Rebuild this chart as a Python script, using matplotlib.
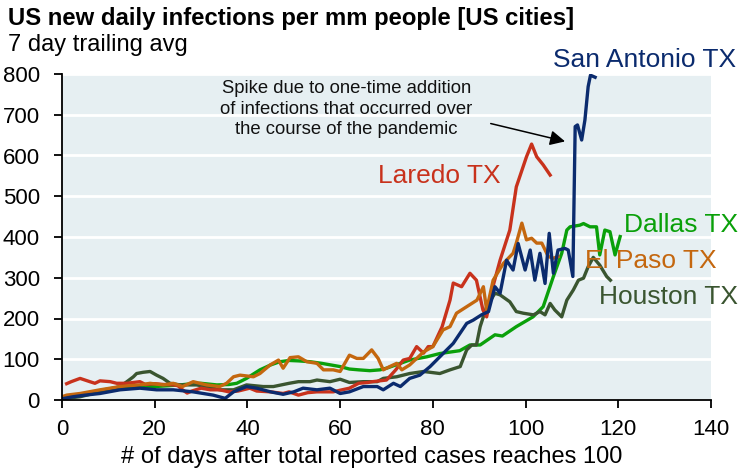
import matplotlib
matplotlib.use('Agg')
import matplotlib.pyplot as plt

plt.rcParams['font.family'] = ['Liberation Sans', 'DejaVu Sans']

# data (days after 100 cases, infections per mm people)
laredo_days = [1, 2, 3.9, 6, 7.1, 8.2, 10.4, 11.8, 14, 16.8, 18, 20, 22, 24, 25, 26, 27, 28, 30, 32, 34, 36, 38, 40.5,
               42, 45, 47.7, 49, 51, 53, 55, 57, 58.5, 60, 62, 64, 66, 67, 70, 72, 73.6, 75, 76.5, 78, 79, 80, 82,
               83.7, 84.4, 86.2, 88, 89.4, 90.8, 91.6, 93, 94.5, 96.6, 98, 100.2, 101.3, 102.4, 103.8, 105.3]
laredo_vals = [40, 45, 53, 45, 41, 47, 45, 41, 41, 45, 38, 40, 38, 37, 35, 25, 17, 22, 29, 25, 25, 20, 22, 29,
               22, 20, 16, 20, 12, 18, 20, 20, 20, 24, 29, 41, 43, 45, 49, 74, 98, 102, 131, 115, 131, 131, 180,
               245, 287, 278, 311, 294, 221, 204, 280, 343, 417, 523, 597, 628, 597, 577, 552]

dallas_days = [0, 3, 6, 9, 13, 17, 20, 23, 25.5, 28, 30, 33.4, 36, 37.7, 39.8, 42.7, 45, 47, 49, 51, 53.5, 56, 58,
               60, 62, 64, 66.4, 68.6, 70, 72, 75, 78.7, 81.5, 85.8, 88, 90.2, 93.4, 95, 98, 101.6, 103.8, 106,
               107.8, 108.9, 109.6, 111.7, 112.5, 113.9, 115.3, 116, 117.1, 118.2, 119.3, 120.4]
dallas_vals = [5, 10, 18, 25, 33, 33, 33, 35, 37, 40, 41, 37, 38, 41, 53, 74, 86, 94, 97, 96, 94, 90, 86,
               82, 76, 74, 72, 74, 78, 86, 98, 106, 114, 121, 135, 135, 160, 157, 180, 204, 229, 303,
               360, 417, 425, 429, 433, 425, 425, 356, 417, 413, 356, 401]

sa_days = [0, 2.4, 5, 8.2, 12.5, 16.8, 20.4, 24, 28.3, 32.6, 35.2, 37, 39.8, 42, 45, 47.7, 50, 52, 55, 57.8, 60,
           62, 65, 68, 69.3, 71.5, 73, 75, 77.2, 79.4, 81.5, 84.4, 87.3, 88.7, 90.5, 92, 93.4, 94.5, 95.9, 97.3,
           98.4, 99.9, 101, 102, 103.1, 104.2, 105.1, 106, 107, 108.5, 109.2, 110.2, 110.7, 111.2, 112.1, 112.8,
           113.5, 114, 115]
sa_vals = [3, 8, 12, 16, 25, 29, 25, 25, 20, 12, 4, 20, 33, 29, 20, 14, 20, 29, 25, 29, 16,
           20, 33, 33, 25, 41, 33, 53, 61, 82, 106, 139, 188, 196, 209, 217, 278, 262, 343, 319,
           384, 319, 368, 294, 360, 286, 409, 311, 368, 372, 368, 303, 671, 675, 638, 687,
           769, 797, 792]

elpaso_days = [0, 1, 3.9, 8.2, 12.5, 16.8, 19, 21.8, 24, 26, 28.3, 31.2, 34, 35.5, 37, 38.4, 41.3, 42.7, 44.9, 46.7,
               47.7, 49.2, 51, 52.8, 55, 56.4, 58.5, 60, 62, 63.6, 65, 66.8, 68.2, 69.3, 70.7, 72.2, 73.3, 75,
               76.5, 78, 80, 82.2, 83.7, 85.1, 87.3, 89.5, 90.9, 91.6, 93, 95.2, 97.3, 98, 99.2, 100.2, 101.3,
               102.4, 103.5, 104.9, 106, 107]
elpaso_vals = [8, 12, 16, 25, 33, 37, 41, 37, 41, 33, 45, 37, 33, 41, 57, 61, 57, 65, 86, 98,
               78, 104, 106, 94, 90, 74, 74, 70, 110, 102, 102, 123, 102, 74, 82, 90, 74, 86,
               102, 118, 131, 172, 180, 213, 229, 245, 278, 221, 294, 335, 360, 385, 434, 393, 397,
               385, 385, 352, 348, 352]

houston_days = [0, 3.9, 8.2, 12.5, 14, 15.4, 16.1, 17.5, 19, 20.4, 21.8, 23.3, 25.5, 29, 31.2, 34, 37, 39.8, 43.4,
                45.6, 49, 51, 53.5, 55, 57.8, 60, 62, 65, 68, 69.3, 72.2, 75, 78, 81.5, 83.7, 85.9, 87.3, 88.4,
                89.4, 90.2, 91.6, 93.4, 94.5, 96.6, 98, 99.5, 101.7, 103.1, 104.2, 105.3, 106.3, 107.8, 108.9,
                110.3, 111.4, 112.5, 113.5, 114.6, 116, 117.5, 118.3]
houston_vals = [3, 8, 20, 33, 45, 57, 65, 68, 70, 61, 53, 41, 37, 37, 33, 25, 25, 37, 33,
                33, 41, 45, 45, 49, 45, 51, 43, 45, 45, 53, 57, 65, 70, 65, 74, 82, 123, 135,
                135, 180, 229, 262, 258, 241, 217, 213, 209, 217, 209, 237, 221, 204, 245,
                270, 294, 299, 327, 350, 331, 303, 294]

c_laredo = '#C8321C'
c_dallas = '#0AA00A'
c_sa = '#0B2B6E'
c_elpaso = '#C4670F'
c_houston = '#3A5530'

fig = plt.figure(figsize=(7.42, 4.74), dpi=100)
ax = fig.add_axes([62 / 742, 74 / 474, 649 / 742, 326 / 474])
ax.set_facecolor('#E6EFF2')

lw = 2.4
ax.plot(dallas_days, dallas_vals, color=c_dallas, lw=lw, solid_joinstyle='round')
ax.plot(houston_days, houston_vals, color=c_houston, lw=lw, solid_joinstyle='round')
ax.plot(laredo_days, laredo_vals, color=c_laredo, lw=lw, solid_joinstyle='round')
ax.plot(elpaso_days, elpaso_vals, color=c_elpaso, lw=lw, solid_joinstyle='round')
ax.plot(sa_days, sa_vals, color=c_sa, lw=lw, solid_joinstyle='round')

ax.set_xlim(0, 140)
ax.set_ylim(0, 800)
ax.set_xticks(range(0, 141, 20))
ax.set_yticks(range(0, 801, 100))
ax.yaxis.grid(True, color='white', lw=2)
ax.set_axisbelow(True)
for s in ['top', 'right']:
    ax.spines[s].set_visible(False)
for s in ['left', 'bottom']:
    ax.spines[s].set_color('black')
    ax.spines[s].set_linewidth(1.3)
ax.tick_params(axis='both', direction='out', length=6, width=1.3, labelsize=16, colors='black')
ax.tick_params(axis='y', pad=10)
ax.tick_params(axis='x', pad=8)

# series labels
lab = dict(fontsize=19, ha='left', va='baseline', clip_on=False)
ax.text(105.9, 817, 'San Antonio TX', color=c_sa, **lab)
ax.text(68.2, 532, 'Laredo TX', color=c_laredo, **lab)
ax.text(121.2, 412, 'Dallas TX', color=c_dallas, **lab)
ax.text(112.8, 324, 'El Paso TX', color=c_elpaso, **lab)
ax.text(115.8, 235, 'Houston TX', color=c_houston, **lab)

# annotation
ax.text(61.3, 714, 'Spike due to one-time addition\nof infections that occurred over\nthe course of the pandemic',
        fontsize=13.3, ha='center', va='center', linespacing=1.25, color='#111111')
ax.annotate('', xy=(109.1, 633), xytext=(91.9, 680),
            arrowprops=dict(arrowstyle='-|>,head_length=0.9,head_width=0.45', color='black', lw=1.1))

fig.text(8 / 742, 1 - 25 / 474, 'US new daily infections per mm people [US cities]',
         fontsize=17.2, fontweight='bold', va='baseline', ha='left')
fig.text(8 / 742, 1 - 51 / 474, '7 day trailing avg', fontsize=17, va='baseline', ha='left')
fig.text(372 / 742, 1 - 463 / 474, '# of days after total reported cases reaches 100',
         fontsize=17, va='baseline', ha='center')

fig.savefig('out.png', dpi=100)
